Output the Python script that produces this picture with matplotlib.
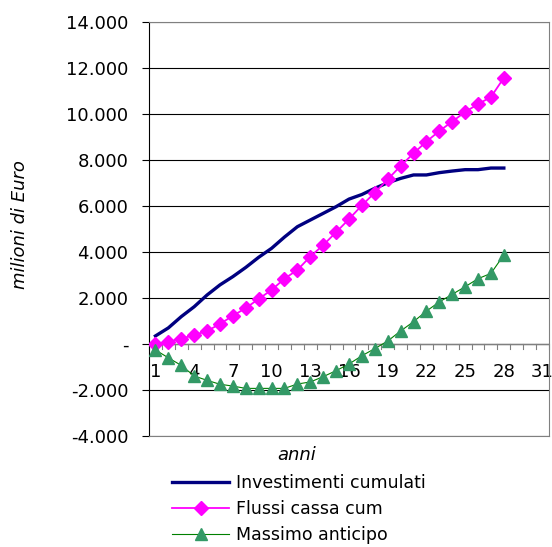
import matplotlib
matplotlib.use('Agg')
import matplotlib.pyplot as plt
from matplotlib.ticker import FuncFormatter

anni = list(range(1, 29))
investimenti = [350, 700, 1190, 1620, 2130, 2570, 2930, 3330, 3770, 4160,
                4650, 5100, 5390, 5680, 5970, 6300, 6500, 6770, 7010, 7200,
                7350, 7350, 7450, 7520, 7580, 7580, 7650, 7650]
flussi = [0, 100, 230, 390, 565, 870, 1230, 1560, 1960, 2350,
          2840, 3220, 3800, 4300, 4860, 5430, 6030, 6580, 7160, 7740,
          8290, 8800, 9260, 9670, 10090, 10430, 10740, 11570]
anticipo = [-260, -600, -930, -1390, -1580, -1750, -1830, -1930, -1930, -1930,
            -1930, -1740, -1650, -1420, -1160, -870, -510, -200, 130, 565,
            970, 1430, 1830, 2160, 2490, 2840, 3070, 3870]
n_categorie = 31
etichette_x = list(range(1, 32, 3))

fig = plt.figure(figsize=(5.52, 5.47), dpi=100)
ax = fig.add_axes([149/552, 1 - 436/547, 400/552, 414/547])

ax.plot(anni, investimenti, color='#000080', lw=2.4, label='Investimenti cumulati', zorder=3)
ax.plot(anni, flussi, color='#FF00FF', lw=1.3, marker='D', ms=7.5, label='Flussi cassa cum', zorder=4)
ax.plot(anni, anticipo, color='#008000', lw=0.8, marker='^', ms=9,
        mfc='#339966', mec='#339966', label='Massimo anticipo', zorder=4)

ax.set_xlim(0.5, n_categorie + 0.5)
ax.set_ylim(-4000, 14000)
ax.set_yticks(range(-4000, 14001, 2000))
ax.yaxis.set_major_formatter(FuncFormatter(
    lambda v, p: '-' if v == 0 else f'{int(v):,}'.replace(',', '.')))
ax.tick_params(axis='y', direction='out', length=5, color='black', labelsize=13, pad=10)
ax.grid(axis='y', color='black', lw=0.8)
ax.set_axisbelow(True)

# category axis drawn on the zero line
ax.set_xticks([])
ax.axhline(0, color='#808080', lw=1, zorder=2)
for b in range(n_categorie + 1):
    ax.plot([b + 0.5, b + 0.5], [0, -220], color='#808080', lw=0.8, clip_on=False, zorder=2)
for e in etichette_x:
    ax.text(e, -1200, str(e), ha='center', va='center', fontsize=13, zorder=1)

for s in ['top', 'right', 'bottom']:
    ax.spines[s].set_color('#808080')
ax.spines['left'].set_color('black')

fig.text(20/552, 1 - 225/547, 'milioni di Euro', rotation=90, style='italic',
         fontsize=13, ha='center', va='center')
fig.text(297/552, 1 - 455/547, 'anni', style='italic', fontsize=13, ha='center', va='center')

fig.legend(loc='upper left', bbox_to_anchor=(172/552, 1 - 474/547), frameon=False,
           fontsize=12.5, handlelength=3.3, handletextpad=0.4, labelspacing=0.45,
           borderaxespad=0, borderpad=0)

fig.savefig('out.png', dpi=100)
